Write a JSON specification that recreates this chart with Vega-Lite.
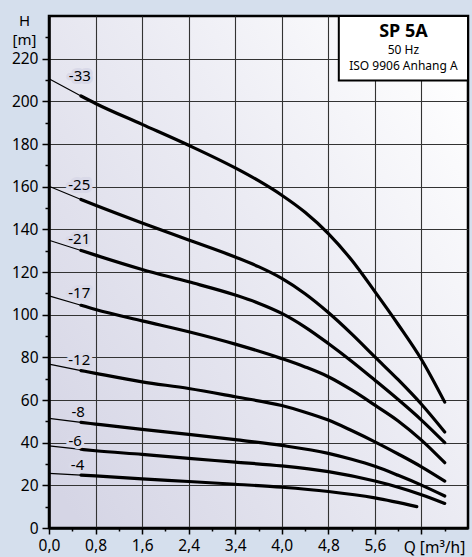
{
  "$schema": "https://vega.github.io/schema/vega-lite/v6.json",
  "width": 419,
  "height": 512,
  "autosize": {"type": "none"},
  "padding": {"left": 49, "top": 16, "right": 4, "bottom": 29},
  "background": "#d5dfed",
  "config": {
    "font": "Noto Sans",
    "view": {
      "stroke": "#000000",
      "strokeWidth": 2.5,
      "fill": {"gradient": "linear", "x1": 0, "y1": 0.9, "x2": 1, "y2": 0.1, "stops": [{"offset": 0, "color": "#d5d5e5"}, {"offset": 0.55, "color": "#ebebf3"}, {"offset": 1, "color": "#ffffff"}]}
    }
  },
  "resolve": {"axis": {"x": "independent", "y": "independent"}},
  "datasets": {
    "curves": [
      {"c": "-33", "s": "a", "Q": 0, "H": 210.6}, {"c": "-33", "s": "a", "Q": 0.55, "H": 202.5},
      {"c": "-33", "s": "b", "Q": 0.55, "H": 202.5}, {"c": "-33", "s": "b", "Q": 0.8, "H": 199}, {"c": "-33", "s": "b", "Q": 1.6, "H": 189.2}, {"c": "-33", "s": "b", "Q": 2.4, "H": 179.4}, {"c": "-33", "s": "b", "Q": 3.2, "H": 168.8}, {"c": "-33", "s": "b", "Q": 3.6, "H": 162.8}, {"c": "-33", "s": "b", "Q": 4.0, "H": 156}, {"c": "-33", "s": "b", "Q": 4.4, "H": 148}, {"c": "-33", "s": "b", "Q": 4.8, "H": 138}, {"c": "-33", "s": "b", "Q": 5.2, "H": 125.6}, {"c": "-33", "s": "b", "Q": 5.6, "H": 110.8}, {"c": "-33", "s": "b", "Q": 6.0, "H": 95.4}, {"c": "-33", "s": "b", "Q": 6.4, "H": 79}, {"c": "-33", "s": "b", "Q": 6.8, "H": 59},
      {"c": "-25", "s": "a", "Q": 0, "H": 160.2}, {"c": "-25", "s": "a", "Q": 0.55, "H": 154},
      {"c": "-25", "s": "b", "Q": 0.55, "H": 154}, {"c": "-25", "s": "b", "Q": 0.8, "H": 151.3}, {"c": "-25", "s": "b", "Q": 1.6, "H": 143}, {"c": "-25", "s": "b", "Q": 2.4, "H": 135}, {"c": "-25", "s": "b", "Q": 3.2, "H": 127}, {"c": "-25", "s": "b", "Q": 3.6, "H": 122.5}, {"c": "-25", "s": "b", "Q": 4.0, "H": 117}, {"c": "-25", "s": "b", "Q": 4.4, "H": 109.8}, {"c": "-25", "s": "b", "Q": 4.8, "H": 101}, {"c": "-25", "s": "b", "Q": 5.2, "H": 91}, {"c": "-25", "s": "b", "Q": 5.6, "H": 80.2}, {"c": "-25", "s": "b", "Q": 6.0, "H": 69.5}, {"c": "-25", "s": "b", "Q": 6.4, "H": 58}, {"c": "-25", "s": "b", "Q": 6.8, "H": 45},
      {"c": "-21", "s": "a", "Q": 0, "H": 134.9}, {"c": "-21", "s": "a", "Q": 0.55, "H": 130.1},
      {"c": "-21", "s": "b", "Q": 0.55, "H": 130.1}, {"c": "-21", "s": "b", "Q": 0.8, "H": 127.9}, {"c": "-21", "s": "b", "Q": 1.6, "H": 121.2}, {"c": "-21", "s": "b", "Q": 2.4, "H": 115.4}, {"c": "-21", "s": "b", "Q": 3.2, "H": 109.2}, {"c": "-21", "s": "b", "Q": 3.6, "H": 105.4}, {"c": "-21", "s": "b", "Q": 4.0, "H": 100.6}, {"c": "-21", "s": "b", "Q": 4.4, "H": 94.2}, {"c": "-21", "s": "b", "Q": 4.8, "H": 86.5}, {"c": "-21", "s": "b", "Q": 5.2, "H": 78.2}, {"c": "-21", "s": "b", "Q": 5.6, "H": 69.3}, {"c": "-21", "s": "b", "Q": 6.0, "H": 60.2}, {"c": "-21", "s": "b", "Q": 6.4, "H": 50.6}, {"c": "-21", "s": "b", "Q": 6.8, "H": 40},
      {"c": "-17", "s": "a", "Q": 0, "H": 108.8}, {"c": "-17", "s": "a", "Q": 0.55, "H": 104.4},
      {"c": "-17", "s": "b", "Q": 0.55, "H": 104.4}, {"c": "-17", "s": "b", "Q": 0.8, "H": 102.4}, {"c": "-17", "s": "b", "Q": 1.6, "H": 97.1}, {"c": "-17", "s": "b", "Q": 2.4, "H": 92}, {"c": "-17", "s": "b", "Q": 3.2, "H": 86.2}, {"c": "-17", "s": "b", "Q": 4.0, "H": 79.4}, {"c": "-17", "s": "b", "Q": 4.4, "H": 75.5}, {"c": "-17", "s": "b", "Q": 4.8, "H": 70.9}, {"c": "-17", "s": "b", "Q": 5.2, "H": 64.7}, {"c": "-17", "s": "b", "Q": 5.6, "H": 57.6}, {"c": "-17", "s": "b", "Q": 6.0, "H": 50.2}, {"c": "-17", "s": "b", "Q": 6.4, "H": 41.2}, {"c": "-17", "s": "b", "Q": 6.8, "H": 30.6},
      {"c": "-12", "s": "a", "Q": 0, "H": 76.8}, {"c": "-12", "s": "a", "Q": 0.55, "H": 73.8},
      {"c": "-12", "s": "b", "Q": 0.55, "H": 73.8}, {"c": "-12", "s": "b", "Q": 0.8, "H": 72.5}, {"c": "-12", "s": "b", "Q": 1.6, "H": 68.5}, {"c": "-12", "s": "b", "Q": 2.4, "H": 65.4}, {"c": "-12", "s": "b", "Q": 3.2, "H": 61.5}, {"c": "-12", "s": "b", "Q": 4.0, "H": 57.4}, {"c": "-12", "s": "b", "Q": 4.4, "H": 54.3}, {"c": "-12", "s": "b", "Q": 4.8, "H": 50.6}, {"c": "-12", "s": "b", "Q": 5.2, "H": 45.7}, {"c": "-12", "s": "b", "Q": 5.6, "H": 40.4}, {"c": "-12", "s": "b", "Q": 6.0, "H": 34.7}, {"c": "-12", "s": "b", "Q": 6.4, "H": 28.7}, {"c": "-12", "s": "b", "Q": 6.8, "H": 22},
      {"c": "-8", "s": "a", "Q": 0, "H": 51.4}, {"c": "-8", "s": "a", "Q": 0.55, "H": 49.5},
      {"c": "-8", "s": "b", "Q": 0.55, "H": 49.5}, {"c": "-8", "s": "b", "Q": 0.8, "H": 48.7}, {"c": "-8", "s": "b", "Q": 1.6, "H": 46.2}, {"c": "-8", "s": "b", "Q": 2.4, "H": 43.9}, {"c": "-8", "s": "b", "Q": 3.2, "H": 41.4}, {"c": "-8", "s": "b", "Q": 4.0, "H": 38.7}, {"c": "-8", "s": "b", "Q": 4.8, "H": 35}, {"c": "-8", "s": "b", "Q": 5.2, "H": 32.2}, {"c": "-8", "s": "b", "Q": 5.6, "H": 28.9}, {"c": "-8", "s": "b", "Q": 6.0, "H": 24.7}, {"c": "-8", "s": "b", "Q": 6.4, "H": 20.1}, {"c": "-8", "s": "b", "Q": 6.8, "H": 15},
      {"c": "-6", "s": "a", "Q": 0, "H": 38.5}, {"c": "-6", "s": "a", "Q": 0.55, "H": 36.9},
      {"c": "-6", "s": "b", "Q": 0.55, "H": 36.9}, {"c": "-6", "s": "b", "Q": 0.8, "H": 36.2}, {"c": "-6", "s": "b", "Q": 1.6, "H": 34.5}, {"c": "-6", "s": "b", "Q": 2.4, "H": 32.6}, {"c": "-6", "s": "b", "Q": 3.2, "H": 30.9}, {"c": "-6", "s": "b", "Q": 4.0, "H": 29.1}, {"c": "-6", "s": "b", "Q": 4.8, "H": 26.4}, {"c": "-6", "s": "b", "Q": 5.6, "H": 22}, {"c": "-6", "s": "b", "Q": 6.0, "H": 19.1}, {"c": "-6", "s": "b", "Q": 6.4, "H": 15.6}, {"c": "-6", "s": "b", "Q": 6.8, "H": 11.5},
      {"c": "-4", "s": "a", "Q": 0, "H": 25.6}, {"c": "-4", "s": "a", "Q": 0.55, "H": 24.8},
      {"c": "-4", "s": "b", "Q": 0.55, "H": 24.8}, {"c": "-4", "s": "b", "Q": 0.8, "H": 24.4}, {"c": "-4", "s": "b", "Q": 1.6, "H": 23}, {"c": "-4", "s": "b", "Q": 2.4, "H": 21.8}, {"c": "-4", "s": "b", "Q": 3.2, "H": 20.5}, {"c": "-4", "s": "b", "Q": 4.0, "H": 19.1}, {"c": "-4", "s": "b", "Q": 4.8, "H": 17.1}, {"c": "-4", "s": "b", "Q": 5.6, "H": 14.1}, {"c": "-4", "s": "b", "Q": 6.32, "H": 10}
    ],
    "labels": [
      {"t": "-33", "Q": 0.53, "H": 211.7},
      {"t": "-25", "Q": 0.52, "H": 161},
      {"t": "-21", "Q": 0.52, "H": 135.4},
      {"t": "-17", "Q": 0.52, "H": 110.3},
      {"t": "-12", "Q": 0.52, "H": 78.7},
      {"t": "-8", "Q": 0.5, "H": 54.5},
      {"t": "-6", "Q": 0.45, "H": 40.7},
      {"t": "-4", "Q": 0.49, "H": 29.5}
    ],
    "box": [
      {"line": "50 Hz", "Q": 6.09, "H": 224},
      {"line": "ISO 9906 Anhang A", "Q": 6.09, "H": 216.6}
    ]
  },
  "layer": [
    {
      "data": {"name": "curves"},
      "mark": {"type": "line", "color": "#000000", "interpolate": "monotone", "strokeCap": "round", "strokeJoin": "round"},
      "encoding": {
        "x": {
          "field": "Q", "type": "quantitative",
          "scale": {"domain": [0, 7.2], "nice": false, "zero": false},
          "axis": {
            "orient": "bottom",
            "values": [0, 0.8, 1.6, 2.4, 3.2, 4.0, 4.8, 5.6, 6.4],
            "labelExpr": "datum.value > 6 ? '' : (round(datum.value*10) == 32 ? '3,4' : replace(format(datum.value, '.1f'), '.', ','))",
            "labelFont": "Noto Sans", "labelFontSize": 15.5, "labelColor": "#000000", "labelPadding": 4, "labelFlush": false, "labelOverlap": false,
            "tickColor": "#000000", "tickWidth": 1.5, "tickSize": 6,
            "grid": true, "gridColor": "#333333", "gridWidth": 1.1, "gridOpacity": 1,
            "domainColor": "#000000", "domainWidth": 2.5,
            "title": "Q [m³/h]", "titleFont": "Noto Sans", "titleFontSize": 15.5, "titleFontWeight": "normal", "titleColor": "#000000",
            "titleAlign": "center", "titleBaseline": "alphabetic", "titleX": 385, "titleY": 24
          }
        },
        "y": {
          "field": "H", "type": "quantitative",
          "scale": {"domain": [0, 240], "nice": false, "zero": false},
          "axis": {
            "orient": "left",
            "values": [0, 20, 40, 60, 80, 100, 120, 140, 160, 180, 200, 220],
            "labelFont": "Noto Sans", "labelFontSize": 15.5, "labelColor": "#000000", "labelPadding": 4, "labelFlush": false, "labelOverlap": false,
            "tickColor": "#000000", "tickWidth": 1.5, "tickSize": 7,
            "grid": true, "gridColor": "#333333", "gridWidth": 1.1, "gridOpacity": 1,
            "domainColor": "#000000", "domainWidth": 2.5,
            "title": ["H", "[m]"], "titleFont": "Noto Sans", "titleFontSize": 15, "titleFontWeight": "normal", "titleColor": "#000000",
            "titleAngle": 0, "titleAlign": "center", "titleBaseline": "top", "titleX": -25, "titleY": -3, "titleLineHeight": 19
          }
        },
        "detail": {"field": "c"},
        "strokeWidth": {"field": "s", "type": "nominal", "scale": {"domain": ["a", "b"], "range": [1.2, 3.2]}, "legend": null}
      }
    },
    {
      "data": {"name": "labels"},
      "mark": {"type": "point", "opacity": 0},
      "encoding": {
        "x": {
          "field": "Q", "type": "quantitative",
          "axis": {
            "orient": "bottom",
            "values": [0.4, 1.2, 2.0, 2.8, 3.6, 4.4, 5.2, 6.0, 6.8],
            "labels": false, "domain": false, "grid": false, "title": null,
            "tickColor": "#000000", "tickWidth": 1.5, "tickSize": 3
          }
        },
        "y": {
          "field": "H", "type": "quantitative",
          "axis": {
            "orient": "left",
            "values": [10, 30, 50, 70, 90, 110, 130, 150, 170, 190, 210, 230],
            "labels": false, "domain": false, "grid": false, "title": null,
            "tickColor": "#000000", "tickWidth": 1.5, "tickSize": 4
          }
        }
      }
    },
    {
      "data": {"name": "labels"},
      "mark": {"type": "text", "font": "Noto Sans", "fontSize": 15, "align": "center", "baseline": "middle", "stroke": "#d9d9e8", "strokeWidth": 6, "fill": "#d9d9e8", "strokeJoin": "round"},
      "encoding": {
        "x": {"field": "Q", "type": "quantitative", "axis": null},
        "y": {"field": "H", "type": "quantitative", "axis": null},
        "text": {"field": "t"}
      }
    },
    {
      "data": {"name": "labels"},
      "mark": {"type": "text", "font": "Noto Sans", "fontSize": 15, "align": "center", "baseline": "middle", "color": "#000000"},
      "encoding": {
        "x": {"field": "Q", "type": "quantitative", "axis": null},
        "y": {"field": "H", "type": "quantitative", "axis": null},
        "text": {"field": "t"}
      }
    },
    {
      "data": {"values": [{}]},
      "mark": {"type": "rect", "fill": "#ffffff", "stroke": "#000000", "strokeWidth": 2},
      "encoding": {
        "x": {"datum": 4.98, "type": "quantitative", "axis": null},
        "x2": {"datum": 7.2},
        "y": {"datum": 209.8, "type": "quantitative", "axis": null},
        "y2": {"datum": 240}
      }
    },
    {
      "data": {"values": [{"line": "SP 5A", "Q": 6.09, "H": 232.6}]},
      "mark": {"type": "text", "font": "Noto Sans", "fontSize": 18, "fontWeight": "bold", "align": "center", "baseline": "middle", "color": "#000000"},
      "encoding": {
        "x": {"field": "Q", "type": "quantitative", "axis": null},
        "y": {"field": "H", "type": "quantitative", "axis": null},
        "text": {"field": "line"}
      }
    },
    {
      "data": {"name": "box"},
      "mark": {"type": "text", "font": "Noto Sans", "fontSize": 12, "align": "center", "baseline": "middle", "color": "#000000"},
      "encoding": {
        "x": {"field": "Q", "type": "quantitative", "axis": null},
        "y": {"field": "H", "type": "quantitative", "axis": null},
        "text": {"field": "line"}
      }
    }
  ]
}
